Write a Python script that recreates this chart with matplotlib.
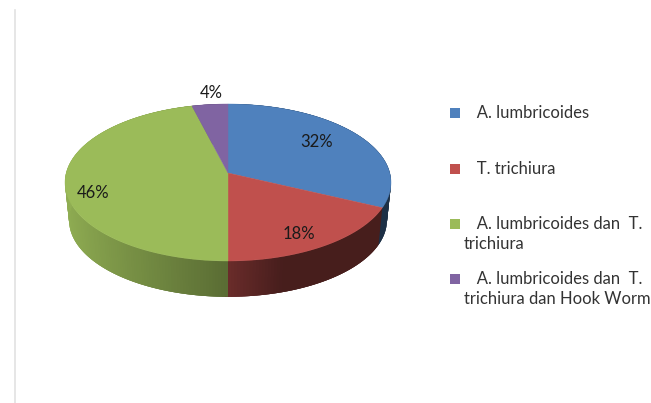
import numpy as np
import matplotlib
matplotlib.use("Agg")
import matplotlib.pyplot as plt
from matplotlib.colors import to_rgb

plt.rcParams['font.family'] = ['Lato', 'DejaVu Sans']

labels = ["A. lumbricoides", "T. trichiura", "A. lumbricoides dan  T.\ntrichiura", "A. lumbricoides dan  T.\ntrichiura dan Hook Worm"]
values = [32, 18, 46, 4]
colors = ["#4F81BD", "#C0504D", "#9BBB59", "#8064A2"]
pct_pos = [(317, 142), (299, 234), (93, 193), (211, 93)]
legend_y = [113, 169, 224, 279]
text_y = [113, 169, 234, 289]

# pie geometry in pixels
cx, cy = 228, 173
rx, ry, k = 161.8, 77.35, 0.121
depth, shrink = 38, 0.975

def rim(theta, s=1.0, dy=0):
    # circle seen in perspective, theta clockwise from the top
    w = 1 + k*np.cos(theta)
    return cx + s*rx*np.sin(theta)/w, cy + dy - s*ry*np.cos(theta)/w

def side_shade(theta):
    # dark towards the front, lighter to the left, darkest on the right
    s = np.sin(theta)
    if s < 0:
        return 0.58 + 0.35*(-s)
    return max(0.55 - 0.6*s, 0.37)

fig = plt.figure(figsize=(6.51, 4.03), dpi=100)
ax = fig.add_axes([0, 0, 1, 1])
ax.set_xlim(0, 651)
ax.set_ylim(403, 0)
ax.axis("off")

ax.plot([14.5, 14.5], [10, 403], color="#e2e2e2", lw=1.2)

edges = np.cumsum([0] + values)/sum(values)*2*np.pi

# side wall first, top face covers the back part
for i in range(len(values)):
    t = np.linspace(edges[i], edges[i+1], max(int((edges[i+1]-edges[i])*60), 2))
    step = t[1]-t[0]
    for a, b in zip(t[:-1], t[1:]):
        # each strip runs on under the next one so no seams show
        arc = np.array([a, b+2*step])
        x1, y1 = rim(arc)
        x2, y2 = rim(arc[::-1], shrink, depth)
        c = tuple(np.array(to_rgb(colors[i]))*side_shade((a+b)/2))
        ax.fill(np.r_[x1, x2], np.r_[y1, y2], color=c, lw=0, zorder=2)

for i in range(len(values)):
    t = np.linspace(edges[i], edges[i+1], 120)
    x, y = rim(t)
    ax.fill(np.r_[cx, x], np.r_[cy, y], color=colors[i], lw=0.3, zorder=3)
    ax.text(pct_pos[i][0], pct_pos[i][1], "%d%%" % values[i], ha="center", va="center",
            fontsize=12, color="#1a1a1a", zorder=4)

for i in range(len(labels)):
    ax.plot([455], [legend_y[i]], marker="s", ms=7.2, mew=0, color=colors[i], ls="none")
    ax.text(464, text_y[i], "   " + labels[i], ha="left", va="center", fontsize=12,
            color="#333333", linespacing=1.3)

fig.savefig("out.png", dpi=100, facecolor="white")
